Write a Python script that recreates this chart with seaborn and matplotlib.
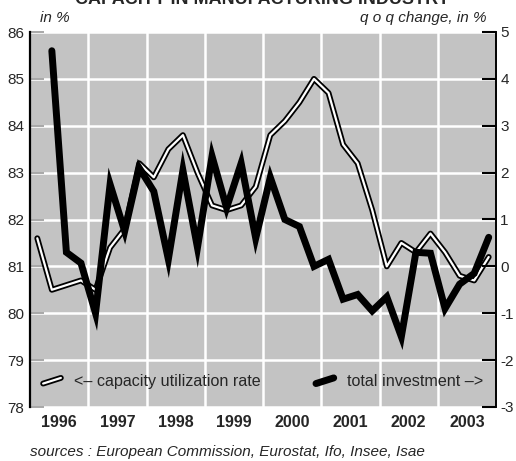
import numpy as np
import pandas as pd
import matplotlib
matplotlib.use("Agg")
import matplotlib.pyplot as plt
import seaborn as sns
from matplotlib.lines import Line2D
import matplotlib.patheffects as pe

# ---- data ----
years = [1996, 1997, 1998, 1999, 2000, 2001, 2002, 2003]
capacity = [81.6, 80.5, 80.6, 80.7,
            80.5, 81.4, 81.8, 83.2,
            82.9, 83.5, 83.8, 83.0,
            82.3, 82.2, 82.3, 82.7,
            83.8, 84.1, 84.5, 85.0,
            84.7, 83.6, 83.2, 82.2,
            81.0, 81.5, 81.3, 81.7,
            81.3, 80.8, 80.7, 81.2]
investment = [4.6, 0.3, 0.07,
              -1.0, 1.75, 0.75, 2.1,
              1.6, 0.15, 2.05, 0.4,
              2.35, 1.25, 2.2, 0.6,
              1.9, 1.0, 0.85, 0.0,
              0.15, -0.7, -0.6, -0.95,
              -0.65, -1.5, 0.3, 0.28,
              -0.9, -0.38, -0.15, 0.62]
left_ticks = [78, 79, 80, 81, 82, 83, 84, 85, 86]
right_ticks = [-3, -2, -1, 0, 1, 2, 3, 4, 5]

quarters = [y + (q - 0.5) / 4 for y in years for q in range(1, 5)]
df_cap = pd.DataFrame({"t": quarters, "v": capacity})
df_inv = pd.DataFrame({"t": quarters[1:], "v": investment})

sns.set_style("darkgrid", {"axes.facecolor": "#c3c3c3", "grid.color": "white"})
plt.rcParams["font.family"] = ["Liberation Sans", "DejaVu Sans"]
plt.rcParams["axes.unicode_minus"] = False

fig = plt.figure(figsize=(5.16, 4.61), dpi=100)
ax = fig.add_axes([30/516, 1-407/461, 466/516, 375/461])
ax2 = ax.twinx()

cap_fx = [pe.Stroke(linewidth=4.2, foreground="black"), pe.Normal()]
sns.lineplot(data=df_cap, x="t", y="v", ax=ax, color="white", linewidth=1.6,
             path_effects=cap_fx, zorder=3)
sns.lineplot(data=df_inv, x="t", y="v", ax=ax2, color="black", linewidth=5,
             zorder=4, solid_joinstyle="miter")

ax.set_xlim(1996, 2004)
ax.set_ylim(78, 86)
ax2.set_ylim(-3, 5)
ax.set_yticks(left_ticks)
ax2.set_yticks(right_ticks)
ax.set_xticks([y + 0.5 for y in years])
ax.set_xticklabels([str(y) for y in years], fontweight="bold", fontsize=11.5)
ax.set_xticks(years[1:], minor=True)
ax.grid(False, which="major", axis="x")
ax.grid(True, which="minor", axis="x", color="white", linewidth=1.8)
ax.grid(True, which="major", axis="y", color="white", linewidth=1.8)
ax2.grid(False)
ax.set_xlabel("")
ax.set_ylabel("")
ax2.set_ylabel("")

ax.tick_params(axis="x", which="both", length=0, pad=6)
ax.tick_params(axis="y", direction="in", length=10, width=1.2, color="#9a9a9a",
               labelsize=11, pad=4, left=True)
ax2.tick_params(axis="y", direction="in", length=10, width=1.5, color="black",
                labelsize=11, pad=3, right=True)

for a in (ax, ax2):
    for s in ("top", "bottom"):
        a.spines[s].set_visible(False)
ax.spines["left"].set_visible(True)
ax.spines["left"].set_color("black")
ax.spines["left"].set_linewidth(1.6)
ax2.spines["right"].set_visible(True)
ax2.spines["right"].set_color("black")
ax2.spines["right"].set_linewidth(1.4)
ax2.spines["left"].set_visible(False)
ax.spines["right"].set_visible(False)


class SlantHandler:
    """Legend handle drawn as a short slanted segment, as in the original."""
    def legend_artist(self, legend, orig_handle, fontsize, handlebox):
        x0, y0 = handlebox.xdescent, handlebox.ydescent
        w, h = handlebox.width, handlebox.height
        line = Line2D([x0, x0 + w], [y0 + 0.25 * h, y0 + 0.75 * h],
                      color=orig_handle.get_color(),
                      linewidth=orig_handle.get_linewidth(),
                      solid_capstyle="round")
        line.set_path_effects(orig_handle.get_path_effects())
        line.set_transform(handlebox.get_transform())
        handlebox.add_artist(line)
        return line


# legends
h1 = Line2D([], [], color="white", linewidth=1.6, path_effects=cap_fx)
h2 = Line2D([], [], color="black", linewidth=5)
hmap = {Line2D: SlantHandler()}
leg1 = ax2.legend([h1], ["<– capacity utilization rate"], loc="center left",
                  bbox_to_anchor=(0.004, 0.067), frameon=False, handlelength=1.1,
                  handletextpad=0.8, fontsize=11.6, borderaxespad=0.3,
                  handler_map=hmap)
ax2.add_artist(leg1)
leg2 = ax2.legend([h2], ["total investment –>"], loc="center right",
                  bbox_to_anchor=(0.996, 0.067), frameon=False, handlelength=1.1,
                  handletextpad=0.8, fontsize=11.6, borderaxespad=0.3,
                  handler_map=hmap)

fig.text(40/516, 1-18/461, "in %", fontstyle="italic", fontsize=11, va="center", ha="left")
fig.text(487/516, 1-18/461, "q o q change, in %", fontstyle="italic", fontsize=11,
         va="center", ha="right")
fig.text(30/516, 1-452/461, "sources : European Commission, Eurostat, Ifo, Insee, Isae",
         fontstyle="italic", fontsize=11, va="center", ha="left")
fig.text(262/516, 1-(-1)/461, "CAPACITY IN MANUFACTURING INDUSTRY",
         fontweight="bold", fontsize=13, va="center", ha="center")

fig.savefig("out.png", dpi=100)
